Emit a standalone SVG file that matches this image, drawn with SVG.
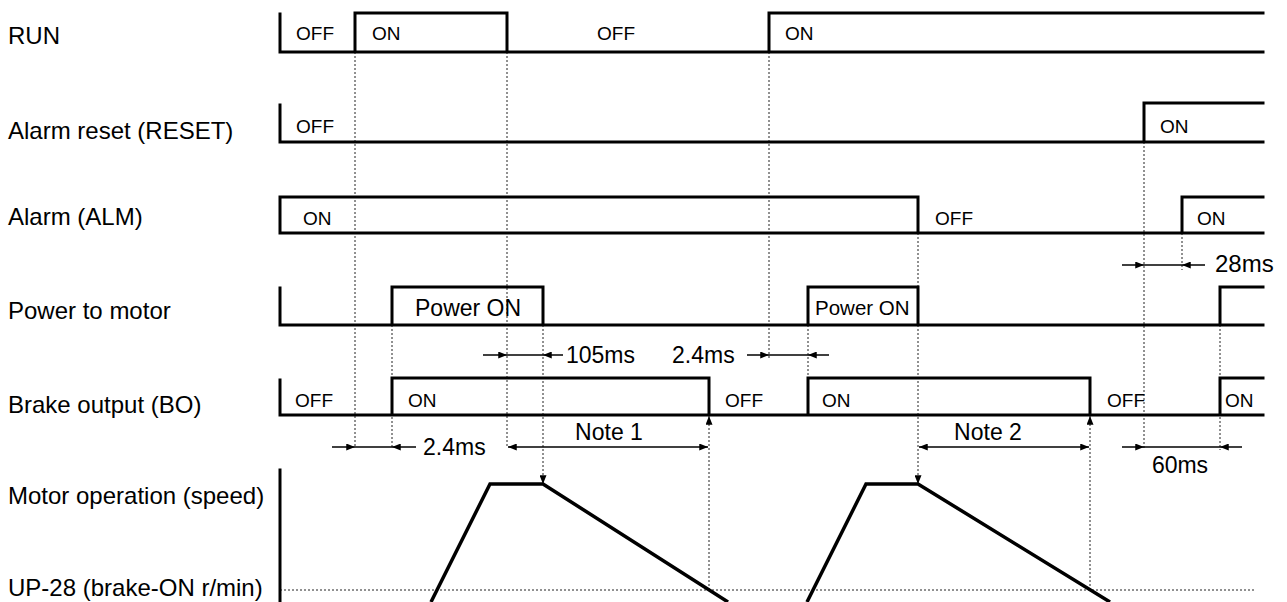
<svg xmlns="http://www.w3.org/2000/svg" width="1287" height="602" viewBox="0 0 1287 602">
<style>
.sig{fill:none;stroke:#000;stroke-width:3;stroke-linejoin:miter;stroke-linecap:square}
.spd{fill:none;stroke:#000;stroke-width:3.5;stroke-linejoin:miter}
.dot{fill:none;stroke:#222;stroke-width:1;stroke-dasharray:2 2}
.dim{fill:none;stroke:#000;stroke-width:1.5}
.lbl{font-family:"Liberation Sans",Arial,Helvetica,sans-serif;font-size:24px;fill:#000}
.st{font-family:"Liberation Sans",Arial,Helvetica,sans-serif;font-size:19px;fill:#000}
.tm{font-family:"Liberation Sans",Arial,Helvetica,sans-serif;font-size:23px;fill:#000}
</style>
<defs>
<marker id="ah" viewBox="0 0 10 8" markerUnits="userSpaceOnUse" markerWidth="10" markerHeight="7" refX="10" refY="4" orient="auto-start-reverse">
<path d="M0,0 L10,4 L0,8 z" fill="#000"/>
</marker>
</defs>

<g id="labels">
<text class="lbl" x="8" y="44">RUN</text>
<text class="lbl" x="8" y="139">Alarm reset (RESET)</text>
<text class="lbl" x="8" y="225">Alarm (ALM)</text>
<text class="lbl" x="8" y="319">Power to motor</text>
<text class="lbl" x="8" y="413">Brake output (BO)</text>
<text class="lbl" x="8" y="504">Motor operation (speed)</text>
<text class="lbl" x="8" y="596">UP-28 (brake-ON r/min)</text>
</g>

<g id="connectors">
<line class="dot" x1="355" y1="52" x2="355" y2="447"/>
<line class="dot" x1="507" y1="52" x2="507" y2="447"/>
<line class="dot" x1="769" y1="52" x2="769" y2="360"/>
<line class="dot" x1="392" y1="325" x2="392" y2="447"/>
<line class="dot" x1="808" y1="325" x2="808" y2="378"/>
<line class="dot" x1="1144" y1="142" x2="1144" y2="450"/>
<line class="dot" x1="1182" y1="233" x2="1182" y2="270"/>
<line class="dot" x1="1220" y1="325" x2="1220" y2="450"/>
<line class="dot" x1="280" y1="590" x2="1255" y2="590"/>
<line class="dot" x1="543" y1="325" x2="543" y2="484" marker-end="url(#ah)"/>
<line class="dot" x1="918" y1="233" x2="918" y2="484" marker-end="url(#ah)"/>
<line class="dot" x1="709" y1="590" x2="709" y2="416" marker-end="url(#ah)"/>
<line class="dot" x1="1090" y1="590" x2="1090" y2="416" marker-end="url(#ah)"/>
<line class="dim" x1="1122" y1="265" x2="1144" y2="265" marker-end="url(#ah)"/>
<line class="dim" x1="1144" y1="265" x2="1182" y2="265"/>
<line class="dim" x1="1205" y1="265" x2="1182" y2="265" marker-end="url(#ah)"/>
<line class="dim" x1="483" y1="355" x2="507" y2="355" marker-end="url(#ah)"/>
<line class="dim" x1="507" y1="355" x2="543" y2="355"/>
<line class="dim" x1="563" y1="355" x2="543" y2="355" marker-end="url(#ah)"/>
<line class="dim" x1="747" y1="355" x2="769" y2="355" marker-end="url(#ah)"/>
<line class="dim" x1="769" y1="355" x2="808" y2="355"/>
<line class="dim" x1="829" y1="355" x2="808" y2="355" marker-end="url(#ah)"/>
<line class="dim" x1="332" y1="447" x2="355" y2="447" marker-end="url(#ah)"/>
<line class="dim" x1="355" y1="447" x2="392" y2="447"/>
<line class="dim" x1="416" y1="447" x2="392" y2="447" marker-end="url(#ah)"/>
<line class="dim" x1="508" y1="447" x2="708" y2="447" marker-start="url(#ah)" marker-end="url(#ah)"/>
<line class="dim" x1="919" y1="447" x2="1089" y2="447" marker-start="url(#ah)" marker-end="url(#ah)"/>
<line class="dim" x1="1122" y1="447" x2="1144" y2="447" marker-end="url(#ah)"/>
<line class="dim" x1="1144" y1="447" x2="1220" y2="447"/>
<line class="dim" x1="1242" y1="447" x2="1220" y2="447" marker-end="url(#ah)"/>
<text class="tm" x="1215" y="272" style="font-size:24px">28ms</text>
<text class="tm" x="566" y="363">105ms</text>
<text class="tm" x="672" y="363">2.4ms</text>
<text class="tm" x="423" y="455">2.4ms</text>
<text class="tm" x="609" y="440" text-anchor="middle">Note 1</text>
<text class="tm" x="988" y="440" text-anchor="middle">Note 2</text>
<text class="tm" x="1180" y="473" text-anchor="middle">60ms</text>
</g>

<g id="run">
<path class="sig" d="M280,14 V52 H1263 M355,52 V13 H507 V52 M769,52 V13 H1263"/>
<text class="st" x="296" y="40">OFF</text>
<text class="st" x="372" y="40">ON</text>
<text class="st" x="597" y="40">OFF</text>
<text class="st" x="785" y="40">ON</text>
</g>

<g id="reset">
<path class="sig" d="M280,105 V142 H1263 M1144,142 V103 H1263"/>
<text class="st" x="296" y="133">OFF</text>
<text class="st" x="1160" y="133">ON</text>
</g>

<g id="alm">
<path class="sig" d="M280,233 H1263 M280,233 V197 H918 V233 M1182,233 V197 H1263"/>
<text class="st" x="303" y="225">ON</text>
<text class="st" x="935" y="225">OFF</text>
<text class="st" x="1197" y="225">ON</text>
</g>

<g id="power">
<path class="sig" d="M280,288 V325 H1263 M392,325 V287 H543 V325 M808,325 V287 H918 V325 M1220,325 V287 H1263"/>
<text class="tm" x="415" y="316">Power ON</text>
<text class="tm" x="815" y="315" style="font-size:20.5px">Power ON</text>
</g>

<g id="brake">
<path class="sig" d="M280,380 V415 H1263 M392,415 V378 H709 V415 M808,415 V378 H1090 V415 M1220,415 V378 H1263"/>
<text class="st" x="295" y="407">OFF</text>
<text class="st" x="408" y="407">ON</text>
<text class="st" x="725" y="407">OFF</text>
<text class="st" x="822" y="407">ON</text>
<text class="st" x="1107" y="407">OFF</text>
<text class="st" x="1225" y="407">ON</text>
</g>

<g id="speed">
<line class="sig" x1="280" y1="470" x2="280" y2="602"/>
<path class="spd" d="M431,602 L490,484 H543 L728,602"/>
<path class="spd" d="M807,602 L866,484 H918 L1110,602"/>
</g>
</svg>
